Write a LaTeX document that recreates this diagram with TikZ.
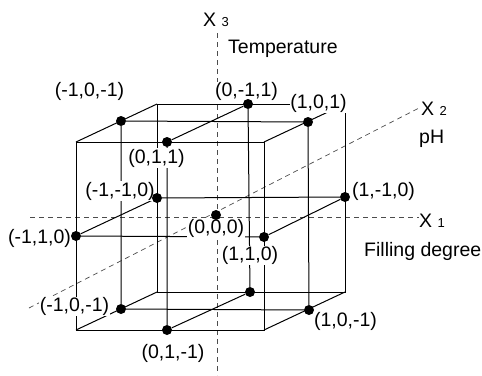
\documentclass[tikz,border=0pt]{standalone}
\usepackage{fontspec}
\setmainfont{Liberation Sans}
\usetikzlibrary{positioning,backgrounds}

\begin{document}
\begin{tikzpicture}[x=1pt, y=-1pt,
    pnt/.style={circle, fill=black, inner sep=0pt, minimum size=10pt},
    lbl/.style={font=\fontsize{19.5}{22}\selectfont, fill=white, inner sep=0.5pt},
    axlbl/.style={font=\fontsize{19.5}{22}\selectfont, inner sep=0pt, anchor=base west},
    edge/.style={line width=1pt},
    axisline/.style={dash pattern=on 5pt off 4pt, line width=0.7pt, black!70}
]
\useasboundingbox (0,0) rectangle (482,375);

% cube corners (front = X2 positive)
\coordinate (ftl) at (76,142);
\coordinate (ftr) at (264,142);
\coordinate (fbr) at (264,330);
\coordinate (fbl) at (76,330);
\coordinate (btl) at (157,104);
\coordinate (btr) at (345,104);
\coordinate (bbr) at (345,292);
\coordinate (bbl) at (157,292);

% axis ends
\coordinate (x1start) at (30,217);
\coordinate (x1end) at (419,217);
\coordinate (x2start) at (29,308);
\coordinate (x2end) at (419,108);
\coordinate (x3start) at (217,33);
\coordinate (x3end) at (217,375);

% labels
\node[axlbl] (x3lbl) at (203,26) {X {\fontsize{13}{15}\selectfont 3}};
\node[axlbl] (templbl) at (228,53) {Temperature};
\node[axlbl] (x2lbl) at (421,115) {X {\fontsize{13}{15}\selectfont 2}};
\node[axlbl] (phlbl) at (419,143) {pH};
\node[axlbl] (x1lbl) at (419,227) {X {\fontsize{13}{15}\selectfont 1}};
\node[axlbl] (filllbl) at (364,256) {Filling degree};

\node[lbl] (ltl) at (89.5,91.5) {(-1,0,-1)};
\node[lbl] (ltb) at (246.5,91.5) {(0,-1,1)};
\node[lbl] (ltr) at (318.5,103.5) {(1,0,1)};
\node[lbl] (ltf) at (156.5,158) {(0,1,1)};
\node[lbl] (lmlb) at (120,191) {(-1,-1,0)};
\node[lbl] (lmlf) at (39.5,238) {(-1,1,0)};
\node[lbl] (lctr) at (216,228.5) {(0,0,0)};
\node[lbl] (lmrf) at (250,255.5) {(1,1,0)};
\node[lbl] (lmrb) at (383.5,191) {(1,-1,0)};
\node[lbl] (lbl) at (74.5,306.5) {(-1,0,-1)};
\node[lbl] (lbf) at (173,353.5) {(0,1,-1)};
\node[lbl] (lbr) at (345.5,321) {(1,0,-1)};

% design points
\node[pnt] (tl) at (121,121) {};
\node[pnt] (tb) at (248,104) {};
\node[pnt] (tr) at (308,122) {};
\node[pnt] (tf) at (167,142) {};
\node[pnt] (mlb) at (157,198) {};
\node[pnt] (mlf) at (76,236) {};
\node[pnt] (mrf) at (264,237) {};
\node[pnt] (mrb) at (345,197) {};
\node[pnt] (ctr) at (216,215) {};
\node[pnt] (bl) at (121,309) {};
\node[pnt] (bf) at (167,330) {};
\node[pnt] (br) at (309,310) {};
\node[pnt] (bb) at (250,292) {};

\begin{scope}[on background layer]
% axes
\draw[axisline] (x1start) -- (x1end);
\draw[axisline] (x2start) -- (x2end);
\draw[axisline] (x3start) -- (x3end);

% cube
\draw[edge] (ftl) -- (ftr) -- (fbr) -- (fbl) -- cycle;
\draw[edge] (btl) -- (btr) -- (bbr) -- (bbl) -- cycle;
\draw[edge] (ftl) -- (btl) (ftr) -- (btr) (fbr) -- (bbr) (fbl) -- (bbl);

% connecting lines
\draw[edge] (tl) -- (tr) (tf) -- (tb);
\draw[edge] (bl) -- (br) (bf) -- (bb);
\draw[edge] (mlf) -- (mlb) -- (mrb) -- (mrf) -- (mlf);
\draw[edge] (tl) -- (bl) (tf) -- (bf) (tb) -- (bb) (tr) -- (br);
\end{scope}
\end{tikzpicture}
\end{document}
